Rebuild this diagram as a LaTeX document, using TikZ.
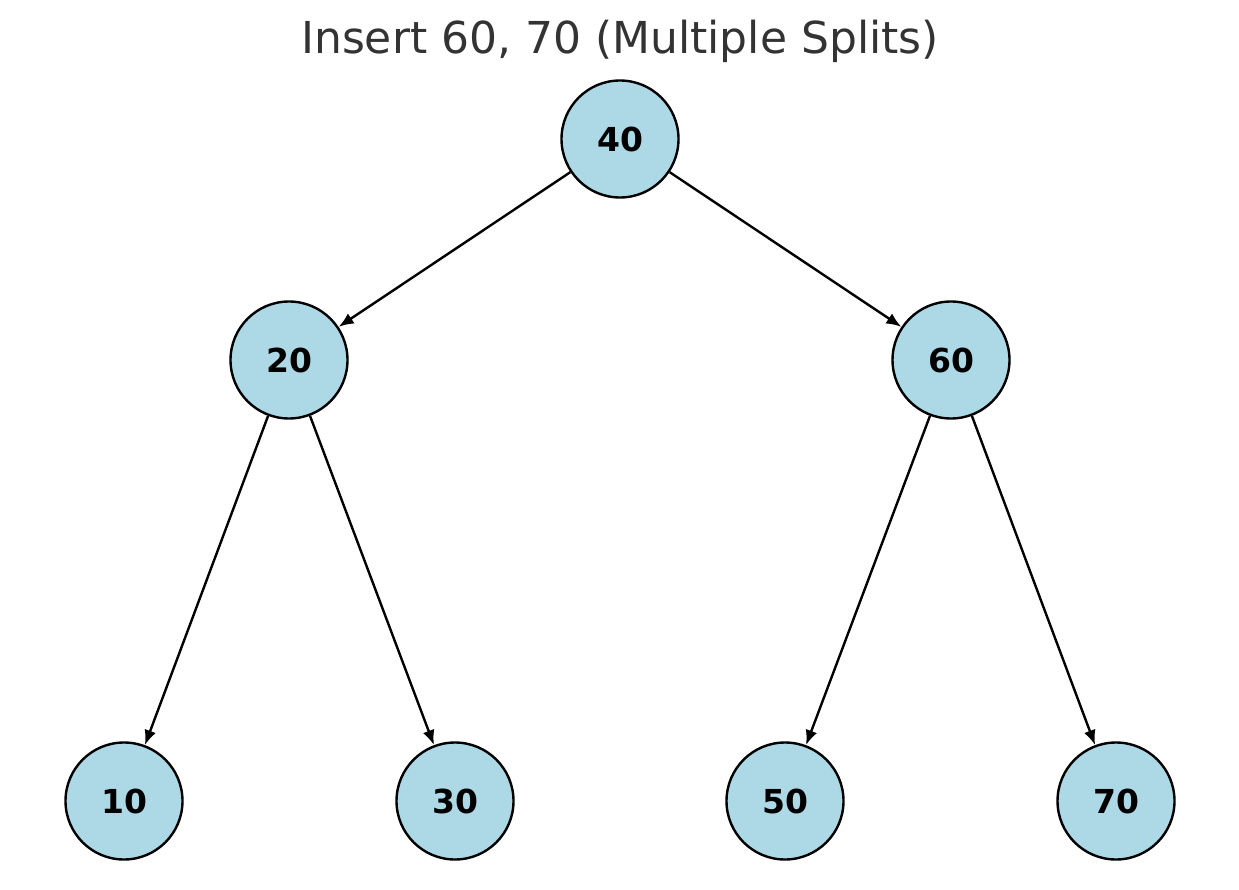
\documentclass[tikz,border=0pt]{standalone}
\usepackage{fontspec}
\setmainfont{DejaVu Sans}
\usetikzlibrary{arrows.meta}
\definecolor{nodeblue}{RGB}{173,216,230}
\definecolor{titlegray}{RGB}{51,51,51}
\begin{document}
\begin{tikzpicture}[x=1pt,y=-1pt,
  key/.style={circle,draw=black,line width=2.4pt,fill=nodeblue,minimum size=117pt,inner sep=0pt,font=\fontsize{33}{40}\selectfont\bfseries},
  edge/.style={line width=2.4pt,-{Latex[length=15pt,width=12pt]}}]
\useasboundingbox (0,0) rectangle (1239,890);
\node[text=titlegray,font=\fontsize{44}{52}\selectfont] (title) at (620,41) {Insert 60, 70 (Multiple Splits)};
\node[key] (n40) at (620,139) {40};
\node[key] (n20) at (289,360) {20};
\node[key] (n60) at (951,360) {60};
\node[key] (n10) at (124,801) {10};
\node[key] (n30) at (455,801) {30};
\node[key] (n50) at (785,801) {50};
\node[key] (n70) at (1116,801) {70};
\draw[edge] (n40) -- (n20);
\draw[edge] (n40) -- (n60);
\draw[edge] (n20) -- (n10);
\draw[edge] (n20) -- (n30);
\draw[edge] (n60) -- (n50);
\draw[edge] (n60) -- (n70);
\end{tikzpicture}
\end{document}
